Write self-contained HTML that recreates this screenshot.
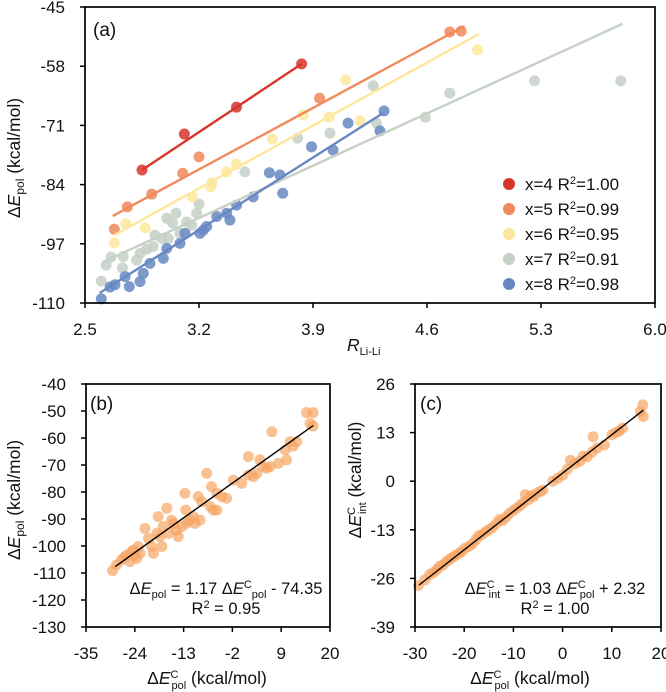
<!DOCTYPE html>
<html><head><meta charset="utf-8"><style>
html,body{margin:0;padding:0;background:#fff;}
svg{display:block;font-family:"Liberation Sans",sans-serif;}
text{fill:#111;}
</style></head><body>
<svg id="fig" width="666" height="692" viewBox="0 0 666 692"></svg>
<script>
// ---------- Panel (a) data ----------
const aXTicks = [2.5, 3.2, 3.9, 4.6, 5.3, 6.0];
const aYTicks = [-45, -58, -71, -84, -97, -110];
const seriesNames = ["x=4", "x=5", "x=6", "x=7", "x=8"];
const seriesR2 = ["1.00", "0.99", "0.95", "0.91", "0.98"];
const x4R = [2.85, 3.11, 3.43, 3.83];
const x4E = [-80.8, -72.9, -67.0, -57.5];
const x5R = [2.68, 2.76, 2.91, 3.10, 3.20, 3.94, 4.74, 4.81];
const x5E = [-93.8, -88.9, -86.1, -81.5, -77.9, -65.0, -50.5, -50.3];
const x6R = [2.68, 2.75, 2.87, 3.16, 3.27, 3.28, 3.37, 3.43, 3.65, 3.84, 4.00, 4.10, 4.19, 4.91];
const x6E = [-96.8, -92.6, -93.5, -86.7, -84.5, -83.6, -81.2, -79.5, -74.0, -68.7, -69.2, -61.0, -70.0, -54.4];
const x7R = [2.60, 2.63, 2.66, 2.73, 2.735, 2.817, 2.838, 2.879, 2.919, 3.002, 3.011, 3.038, 3.059, 2.930, 2.971, 3.083, 3.124, 3.155, 3.186, 3.200, 3.482, 3.806, 4.004, 4.27, 4.74, 4.29, 4.59, 5.26, 5.79];
const x7E = [-105.2, -101.7, -99.9, -102.3, -99.8, -100.6, -99.1, -98.2, -97.6, -91.4, -95.8, -92.4, -90.3, -95.1, -95.8, -94.7, -92.2, -92.9, -90.3, -88.3, -81.2, -73.8, -72.7, -62.3, -63.9, -70.5, -69.2, -61.2, -61.2];
const x8R = [2.60, 2.654, 2.684, 2.746, 2.772, 2.838, 2.858, 2.899, 2.981, 3.002, 3.083, 3.114, 3.206, 3.227, 3.247, 3.309, 3.370, 3.390, 3.431, 3.533, 3.632, 3.697, 3.714, 3.891, 4.023, 4.115, 4.311, 4.336];
const x8E = [-109.1, -106.5, -106.0, -104.2, -106.4, -105.3, -103.5, -101.3, -100.2, -98.0, -96.9, -94.7, -94.7, -94.0, -93.2, -91.0, -90.3, -91.8, -88.5, -86.7, -81.4, -81.9, -85.9, -75.7, -76.4, -70.5, -72.2, -67.8];
const fitR0 = [2.85, 2.67, 2.68, 2.61, 2.59];
const fitR1 = [3.83, 4.83, 4.92, 5.80, 4.33];
const fitE0 = [-80.8, -90.9, -95.1, -101.0, -107.8];
const fitE1 = [-57.5, -49.2, -50.9, -48.7, -68.3];

// ---------- Panel (b) data ----------
const bXTicks = [-35, -24, -13, -2, 9, 20];
const bYTicks = [-40, -50, -60, -70, -80, -90, -100, -110, -120, -130];
const bX = [-29.0,-28.1,-27.0,-25.8,-25.1,-24.3,-24.0,-22.8,-21.7,-20.9,-20.2,-19.0,-18.7,-17.9,-17.6,-16.8,-16.4,-15.7,-14.6,-13.4,-12.7,-12.5,-11.6,-10.8,-9.7,-8.9,-7.8,-7.0,-6.7,-6.3,-5.5,-4.4,-1.8,0.1,1.6,1.6,3.5,4.2,5.0,6.5,6.9,8.4,9.9,10.2,11.0,12.5,14.7,15.5,16.2,16.2,-26.4,-24.7,-23.6,-23.2,-19.8,-18.3,-15.3,-14.2,-12.3,-10.4,-9.3,-5.5,-3.3,2.7,5.7,11.7];
const bY = [-109.1,-107.0,-105.2,-103.3,-105.8,-101.5,-103.3,-102.7,-93.5,-97.2,-100.2,-95.3,-89.1,-100.2,-92.8,-86.0,-95.3,-90.4,-94.1,-92.8,-80.5,-86.7,-90.4,-89.1,-81.7,-83.6,-73.1,-85.4,-78.0,-86.7,-80.5,-81.7,-75.6,-76.8,-66.9,-73.7,-73.1,-68.1,-70.6,-70.6,-57.7,-69.4,-64.4,-68.1,-61.4,-61.4,-50.6,-54.6,-50.6,-55.6,-104.2,-102.1,-104.6,-100.2,-102.7,-96.5,-91.6,-96.5,-91.6,-91.6,-90.4,-86.7,-82.3,-74.3,-71.2,-63.0];
const bFitX = [-28.4, 16.2];
const bFitY = [-107.6, -55.4];

// ---------- Panel (c) data ----------
const cXTicks = [-30, -20, -10, 0, 10, 20];
const cYTicks = [26, 13, 0, -13, -26, -39];
const cX = [-29.3,-28.0,-27.0,-26.2,-25.5,-25.0,-24.3,-23.6,-23.0,-22.4,-21.8,-21.0,-20.5,-19.8,-19.0,-18.3,-17.6,-17.0,-16.4,-15.7,-15.0,-14.3,-13.5,-12.8,-12.2,-11.5,-10.8,-10.0,-9.3,-8.6,-8.0,-7.6,-7.0,-6.5,-6.0,-5.4,-4.6,-4.0,-2.0,-1.0,0.0,1.0,1.6,2.5,3.5,4.2,5.0,6.0,6.2,7.0,8.5,10.0,10.8,11.5,12.2,15.8,16.3,16.4];
const cY = [-27.9,-26.4,-25.0,-24.4,-23.6,-22.8,-22.4,-21.5,-20.9,-20.4,-19.8,-19.3,-18.8,-17.9,-17.4,-16.7,-15.6,-14.6,-14.3,-13.6,-13.0,-12.4,-11.4,-10.2,-10.5,-9.6,-8.6,-7.8,-7.2,-6.5,-5.8,-3.6,-5.0,-3.9,-4.2,-3.4,-2.8,-2.4,0.0,0.8,1.6,3.2,5.6,4.7,5.3,6.7,6.5,7.8,11.9,8.9,9.7,12.4,13.0,13.4,14.2,18.6,20.4,17.3];
const cFitX = [-29.2, 16.4];
const cFitY = [-27.8, 19.0];

const NS = "http://www.w3.org/2000/svg";
const svg = document.getElementById("fig");
function mk(tag, attrs, parent) {
  const e = document.createElementNS(NS, tag);
  for (const k in attrs) e.setAttribute(k, attrs[k]);
  (parent || svg).appendChild(e);
  return e;
}
function scale(d0, d1, r0, r1) { return v => r0 + (v - d0) * (r1 - r0) / (d1 - d0); }

function axesFrame(g, L, R, T, B, xt, yt, sx, sy, fmt) {
  const frame = mk("rect", {x: L, y: T, width: R - L, height: B - T, fill: "none", stroke: "#000", "stroke-width": 1.7}, g);
  
  
  xt.forEach(v => {
    const x = sx(v);
    const tk = mk("line", {x1: x, x2: x, y1: B, y2: B + 5, stroke: "#000", "stroke-width": 1.5}, g);
    
    
    const t = mk("text", {x: x, y: B + 32, "text-anchor": "middle", "font-size": 17}, g);
    t.textContent = fmt ? v.toFixed(1) : String(v);
    
    
  });
  yt.forEach(v => {
    const y = sy(v);
    const tk = mk("line", {x1: L - 5, x2: L, y1: y, y2: y, stroke: "#000", "stroke-width": 1.5}, g);
    
    
    const t = mk("text", {x: L - 20, y: y + 6, "text-anchor": "end", "font-size": 17}, g);
    t.textContent = String(v);
    
    
  });
}

// ===== Panel (a) =====
const gA = mk("g", {});


const aL = 85, aR = 655, aT = 7, aB = 303;
const axA = scale(2.5, 6.0, aL, aR), ayA = scale(-45, -110, aT, aB);
const colors = ["#d7352b", "#f08a5b", "#fde79c", "#c5d0c7", "#6688c2"];
const sR = [x4R, x5R, x6R, x7R, x8R], sE = [x4E, x5E, x6E, x7E, x8E];
const drawOrder = [3, 2, 1, 4, 0];
drawOrder.forEach(i => {
  const sg = mk("g", {}, gA);
  
  
  sR[i].forEach((r, j) => {
    const c = mk("circle", {cx: axA(r), cy: ayA(sE[i][j]), r: 5.5, fill: colors[i], "fill-opacity": 0.85}, sg);
    
    
  });
});
drawOrder.forEach(i => {
  const ln = mk("line", {x1: axA(fitR0[i]), y1: ayA(fitE0[i]), x2: axA(fitR1[i]), y2: ayA(fitE1[i]), stroke: colors[i], "stroke-width": 2.4}, gA);
  
  
});
axesFrame(gA, aL, aR, aT, aB, aXTicks, aYTicks, axA, ayA, true);
// legend
const leg = mk("g", {}, gA);


seriesNames.forEach((n, i) => {
  const y = 184 + i * 25;
  const c = mk("circle", {cx: 509, cy: y, r: 6, fill: colors[i]}, leg);
  
  
  const t = mk("text", {x: 525, y: y + 6, "font-size": 17}, leg);
  
  
  t.innerHTML = n + ' R<tspan font-size="11" dy="-6">2</tspan><tspan dy="6">=' + seriesR2[i] + '</tspan>';
});
const la = mk("text", {x: 93, y: 36, "font-size": 19}, gA);
la.textContent = "(a)";


const yta = mk("text", {x: 0, y: 0, "font-size": 17.5, "text-anchor": "middle", transform: "translate(20,158) rotate(-90)"}, gA);
yta.innerHTML = 'Δ<tspan font-style="italic">E</tspan><tspan font-size="12" dy="4">pol</tspan><tspan dy="-4"> (kcal/mol)</tspan>';


const xta = mk("text", {x: 347, y: 351, "font-size": 17.5}, gA);
xta.innerHTML = '<tspan font-style="italic">R</tspan><tspan font-size="11" dy="4">Li-Li</tspan>';



// ===== Panel (b) =====
const gB = mk("g", {});


const bL = 86, bR = 330, bT = 384, bB = 627;
const axB = scale(-35, 20, bL, bR), ayB = scale(-40, -130, bT, bB);
bX.forEach((v, j) => {
  const c = mk("circle", {cx: axB(v), cy: ayB(bY[j]), r: 5.5, fill: "#f6a564", "fill-opacity": 0.7}, gB);
  
  
});
const lnB = mk("line", {x1: axB(bFitX[0]), y1: ayB(bFitY[0]), x2: axB(bFitX[1]), y2: ayB(bFitY[1]), stroke: "#000", "stroke-width": 1.4}, gB);


axesFrame(gB, bL, bR, bT, bB, bXTicks, bYTicks, axB, ayB, false);
const lb = mk("text", {x: 90, y: 410, "font-size": 19}, gB);
lb.textContent = "(b)";


const eqB = mk("text", {x: 226, y: 594, "font-size": 16.5, "text-anchor": "middle"}, gB);
eqB.innerHTML = 'Δ<tspan font-style="italic">E</tspan><tspan font-size="11" dy="4">pol</tspan><tspan dy="-4"> = 1.17 Δ</tspan><tspan font-style="italic">E</tspan><tspan font-size="11" dy="-6">C</tspan><tspan font-size="11" dy="10">pol</tspan><tspan dy="-4"> - 74.35</tspan>';


const r2B = mk("text", {x: 226, y: 614, "font-size": 16.5, "text-anchor": "middle"}, gB);
r2B.innerHTML = 'R<tspan font-size="11" dy="-6">2</tspan><tspan dy="6"> = 0.95</tspan>';


const ytb = mk("text", {x: 0, y: 0, "font-size": 17.5, "text-anchor": "middle", transform: "translate(20,500) rotate(-90)"}, gB);
ytb.innerHTML = 'Δ<tspan font-style="italic">E</tspan><tspan font-size="12" dy="4">pol</tspan><tspan dy="-4"> (kcal/mol)</tspan>';


const xtb = mk("text", {x: 207, y: 684, "font-size": 17.5, "text-anchor": "middle"}, gB);
xtb.innerHTML = 'Δ<tspan font-style="italic">E</tspan><tspan font-size="11" dy="-6">C</tspan><tspan font-size="11" dy="11" dx="-7">pol</tspan><tspan dy="-5"> (kcal/mol)</tspan>';



// ===== Panel (c) =====
const gC = mk("g", {});


const cL = 415, cR = 661, cT = 384, cB = 627;
const axC = scale(-30, 20, cL, cR), ayC = scale(26, -39, cT, cB);
cX.forEach((v, j) => {
  const c = mk("circle", {cx: axC(v), cy: ayC(cY[j]), r: 5.5, fill: "#f6a564", "fill-opacity": 0.7}, gC);
  
  
});
const lnC = mk("line", {x1: axC(cFitX[0]), y1: ayC(cFitY[0]), x2: axC(cFitX[1]), y2: ayC(cFitY[1]), stroke: "#000", "stroke-width": 1.4}, gC);


axesFrame(gC, cL, cR, cT, cB, cXTicks, cYTicks, axC, ayC, false);
const lc = mk("text", {x: 420, y: 410, "font-size": 19}, gC);
lc.textContent = "(c)";


const eqC = mk("text", {x: 555, y: 594, "font-size": 16.5, "text-anchor": "middle"}, gC);
eqC.innerHTML = 'Δ<tspan font-style="italic">E</tspan><tspan font-size="11" dy="-6">C</tspan><tspan font-size="11" dy="10" dx="-6">int</tspan><tspan dy="-4"> = 1.03 Δ</tspan><tspan font-style="italic">E</tspan><tspan font-size="11" dy="-6">C</tspan><tspan font-size="11" dy="10" dx="-6">pol</tspan><tspan dy="-4">  + 2.32</tspan>';


const r2C = mk("text", {x: 555, y: 614, "font-size": 16.5, "text-anchor": "middle"}, gC);
r2C.innerHTML = 'R<tspan font-size="11" dy="-6">2</tspan><tspan dy="6"> = 1.00</tspan>';


const ytc = mk("text", {x: 0, y: 0, "font-size": 17.5, "text-anchor": "middle", transform: "translate(361,480) rotate(-90)"}, gC);
ytc.innerHTML = 'Δ<tspan font-style="italic">E</tspan><tspan font-size="11" dy="-6">C</tspan><tspan font-size="11" dy="11" dx="-7">int</tspan><tspan dy="-5"> (kcal/mol)</tspan>';


const xtc = mk("text", {x: 530, y: 684, "font-size": 17.5, "text-anchor": "middle"}, gC);
xtc.innerHTML = 'Δ<tspan font-style="italic">E</tspan><tspan font-size="11" dy="-6">C</tspan><tspan font-size="11" dy="11" dx="-7">pol</tspan><tspan dy="-5"> (kcal/mol)</tspan>';


</script>
</body></html>
